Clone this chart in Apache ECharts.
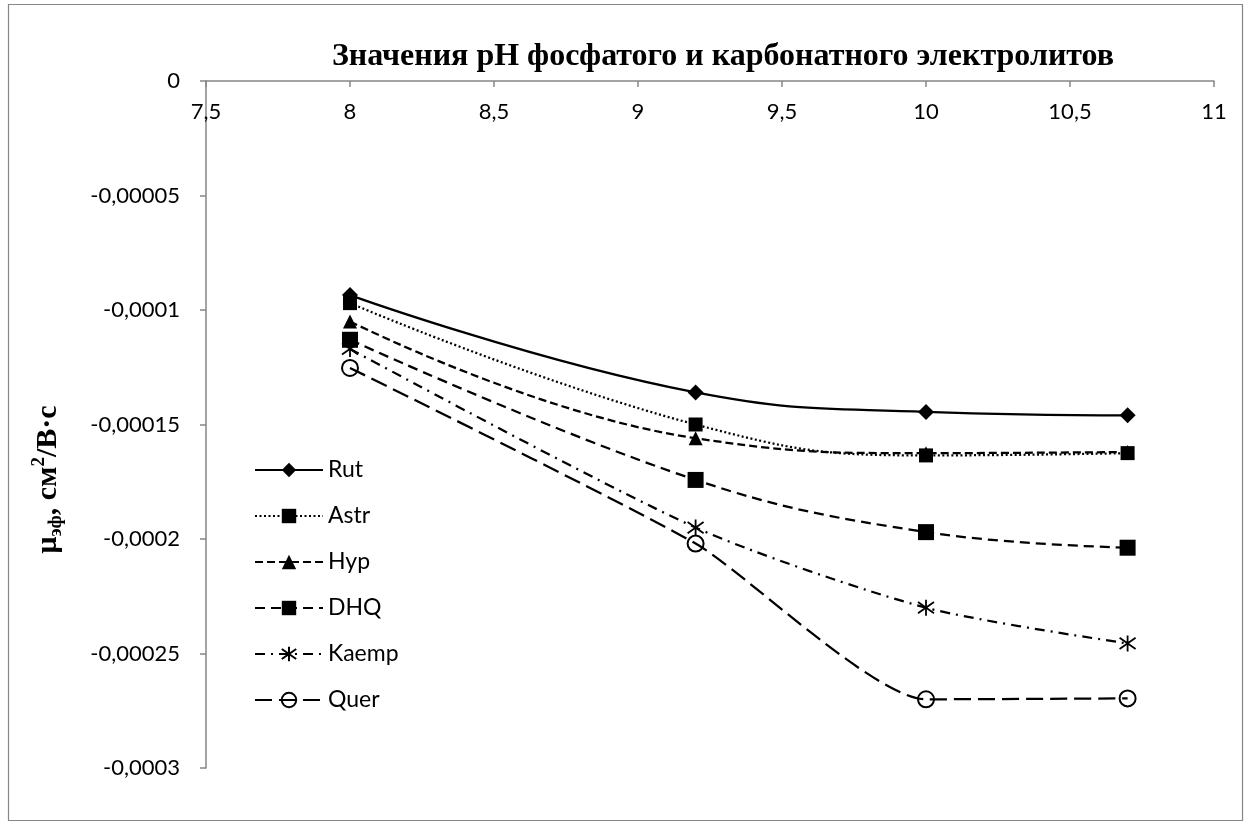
<!DOCTYPE html>
<html><head><meta charset="utf-8">
<script src="https://cdn.jsdelivr.net/npm/echarts@6/dist/echarts.min.js"></script>
<style>html,body{margin:0;padding:0;background:#fff}#c{width:1246px;height:823px}</style>
</head><body><div id="c"></div>
<script>
const phValues = [8, 9.2, 10, 10.7];
const rut   = [-0.0000935, -0.000136, -0.0001445, -0.000146];
const astr  = [-0.000097, -0.000150, -0.0001635, -0.0001625];
const hyp   = [-0.000105, -0.000156, -0.0001625, -0.000162];
const dhq   = [-0.000113, -0.0001742, -0.000197, -0.0002038];
const kaemp = [-0.000117, -0.000195, -0.000230, -0.0002456];
const quer  = [-0.0001253, -0.000202, -0.000270, -0.0002696];
const seriesNames = ['Rut', 'Astr', 'Hyp', 'DHQ', 'Kaemp', 'Quer'];
const titleText = 'Значения pH фосфатого и карбонатного электролитов';

const FONT = 'Lato';
const fmt = v => String(Math.round(v * 1e7) / 1e7).replace('.', ',');
const pairs = arr => arr.map((v, i) => [phValues[i], v]);

const styles = [
  {symbol: 'diamond', size: 16, dash: 'solid', fill: '#000', smooth: 0.45},
  {symbol: 'rect', size: 14, dash: [2, 2.5], fill: '#000', smooth: 0.45},
  {symbol: 'triangle', size: 14, dash: [8, 4], fill: '#000', smooth: 0.45},
  {symbol: 'rect', size: 16, dash: [10, 6], fill: '#000', smooth: 0.4},
  {symbol: 'path://M0,-10L0,10M-8,-7L8,7M-8,7L8,-7', size: 16, dash: [10, 6, 2, 6], fill: 'none', bw: 1.8, smooth: 0.25},
  {symbol: 'circle', size: 16, dash: [17, 7], fill: 'rgba(255,255,255,0)', bw: 2, smooth: 0.2}
];
const dataSets = [rut, astr, hyp, dhq, kaemp, quer];

const series = dataSets.map((d, i) => ({
  name: seriesNames[i],
  type: 'line',
  data: pairs(d),
  smooth: styles[i].smooth,
  symbol: styles[i].symbol,
  symbolSize: styles[i].size,
  showAllSymbol: true,
  lineStyle: {color: '#000', width: 2.25, type: styles[i].dash},
  itemStyle: {color: styles[i].fill, borderColor: '#000', borderWidth: styles[i].bw || 0},
  emphasis: {disabled: true},
  z: 2 + i
}));

const chart = echarts.init(document.getElementById('c'));
chart.setOption({
  animation: false,
  backgroundColor: '#fff',
  title: {
    text: titleText, left: 718, top: 36, textAlign: 'center',
    textStyle: {fontFamily: 'Liberation Serif', fontWeight: 'bold', fontSize: 32, color: '#000'}
  },
  grid: {left: 206, top: 81, width: 1008, height: 687},
  legend: {
    orient: 'vertical', left: 249, top: 452,
    itemWidth: 68, itemHeight: 18, itemGap: 20,
    textStyle: {fontFamily: FONT, fontSize: 23, color: '#000', lineHeight: 26},
    data: seriesNames
  },
  xAxis: {
    type: 'value', position: 'top', min: 7.5, max: 11, interval: 0.5,
    axisLine: {onZero: false, lineStyle: {color: '#868686', width: 1.5}},
    axisTick: {inside: true, length: 6, lineStyle: {color: '#868686', width: 1.5}},
    axisLabel: {inside: true, margin: 20, color: '#000', fontFamily: FONT, fontSize: 22, formatter: fmt},
    splitLine: {show: false}
  },
  yAxis: {
    type: 'value', min: -0.0003, max: 0, interval: 0.00005,
    axisLine: {show: true, onZero: false, lineStyle: {color: '#868686', width: 1.5}},
    axisTick: {show: true, length: 6, lineStyle: {color: '#868686', width: 1.5}},
    axisLabel: {margin: 26, color: '#000', fontFamily: FONT, fontSize: 22, formatter: fmt},
    splitLine: {show: false},
    name: '{b|μ}{sub|эф}{b|, см}{sup|2}{b|/В·с}',
    nameLocation: 'middle', nameRotate: 90, nameGap: 140,
    nameTextStyle: {
      padding: [0, 110, 0, 0],
      rich: {
        b: {fontFamily: 'Liberation Serif', fontWeight: 'bold', fontSize: 30, color: '#000', lineHeight: 36},
        sub: {fontFamily: 'Liberation Serif', fontWeight: 'bold', fontSize: 19, color: '#000', lineHeight: 20, verticalAlign: 'bottom'},
        sup: {fontFamily: 'Liberation Serif', fontWeight: 'bold', fontSize: 19, color: '#000', lineHeight: 20, verticalAlign: 'top'}
      }
    }
  },
  graphic: [{
    type: 'rect', left: 6, top: 2, z: -1,
    shape: {width: 1234, height: 816},
    style: {fill: 'none', stroke: '#868686', lineWidth: 1.2}
  }],
  series: series
});
</script></body></html>
